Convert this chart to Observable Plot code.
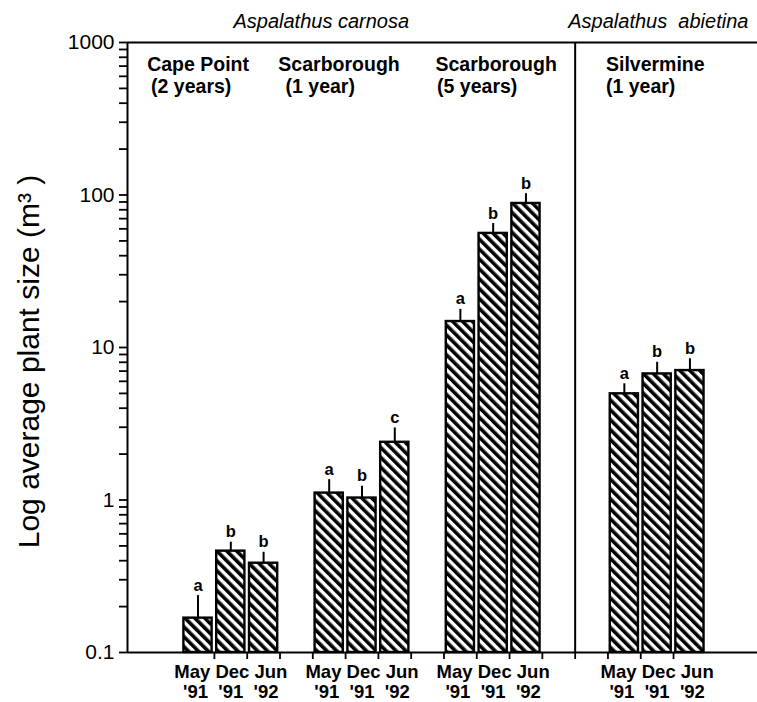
<!DOCTYPE html>
<html>
<head>
<meta charset="utf-8">
<script src="https://cdn.jsdelivr.net/npm/d3@7"></script>
<script src="https://cdn.jsdelivr.net/npm/@observablehq/plot@0.6"></script>
<style>
  body { margin: 0; background: #fff; }
  #chart svg { display: block; }
  #chart svg text { white-space: pre; }
</style>
</head>
<body>
<div id="chart"></div>
<script>
// Sites and survey periods
const sites = ["Cape Point", "Scarborough", "Scarborough", "Silvermine"];
const spans = ["(2 years)", "(1 year)", "(5 years)", "(1 year)"];
const species = ["Aspalathus carnosa", "Aspalathus  abietina"];
const months = ["May", "Dec", "Jun"];
const years = ["'91", "'91", "'92"];

// Average plant size (m³) per site and survey, with upper error limits
const sizes = [
  [0.168, 0.462, 0.385],
  [1.11, 1.03, 2.39],
  [14.8, 56, 88],
  [4.97, 6.71, 7.06]
];
const upper = [
  [0.236, 0.529, 0.454],
  [1.36, 1.23, 2.97],
  [17.8, 65, 102],
  [5.78, 8.0, 8.44]
];
const letters = [
  ["a", "b", "b"],
  ["a", "b", "c"],
  ["a", "b", "b"],
  ["a", "b", "b"]
];
const yTickLabels = [0.1, 1, 10, 100, 1000];

// Layout: bar slots along x (one slot per survey, gaps between sites)
const groupStart = [0, 4, 8, 13];
const divider = 11.5;
const xDomain = [-2.15, 17.06];
const halfBar = 0.43;
const siteDx = [-1.55, -1.55, -0.76, -0.56];
const spanDx = [-1.43, -1.33, -0.71, -0.56];
const speciesX = [1.08, 11.29];

const bars = sites.flatMap((site, g) =>
  months.map((m, i) => ({
    g, i,
    pos: groupStart[g] + i,
    size: sizes[g][i],
    upper: upper[g][i],
    letter: letters[g][i]
  }))
);
const groups = sites.map((site, g) => ({
  g, site, span: spans[g],
  center: groupStart[g] + 1,
  surveys: months.join(" ") + "\n" + years.join("  ")
}));
const speciesRows = species.map((name, k) => ({name, x: speciesX[k]}));

const yTicks = yTickLabels.flatMap(p => p === 1000 ? [p] : d3.range(1, 10).map(k => k * p));

const font = "'Liberation Sans', Arial, Helvetica, sans-serif";

const chart = Plot.plot({
  width: 757,
  height: 702,
  marginLeft: 127,
  marginRight: 0,
  marginTop: 42,
  marginBottom: 50,
  style: {fontFamily: font, fontSize: "21px", color: "#000", background: "#fff"},
  x: {type: "linear", domain: xDomain, axis: null},
  y: {type: "log", domain: [0.1, 1000], axis: null},
  marks: [
    // hatched bars
    Plot.rect(bars, {
      x1: d => d.pos - halfBar,
      x2: d => d.pos + halfBar,
      y1: () => 0.1,
      y2: "size",
      fill: "url(#hatch)",
      stroke: "#000",
      strokeWidth: 2.4
    }),
    // upper error bars
    Plot.ruleX(bars, {x: "pos", y1: "size", y2: "upper", stroke: "#000", strokeWidth: 2}),
    // significance letters
    Plot.text(bars, {
      x: "pos", y: "upper", text: "letter",
      lineAnchor: "bottom", dy: -5,
      fontSize: 16.5, fontWeight: "bold", fill: "#000"
    }),
    // frame lines
    Plot.ruleY([1000], {stroke: "#000", strokeWidth: 2}),
    Plot.ruleY([0.1], {stroke: "#000", strokeWidth: 2}),
    Plot.ruleX([xDomain[0]], {stroke: "#000", strokeWidth: 2}),
    Plot.ruleX([divider], {stroke: "#000", strokeWidth: 2}),
    // log y axis with minor ticks
    Plot.axisY({
      ticks: yTicks,
      tickSize: 8,
      tickPadding: 5,
      strokeWidth: 1.8,
      fontSize: 21,
      tickFormat: d => yTickLabels.includes(d) ? String(d) : "",
      label: null
    }),
    // bottom ticks between slots
    Plot.axisX({
      ticks: d3.range(0.5, 15, 1),
      tickSize: 7,
      strokeWidth: 1.8,
      tickFormat: () => "",
      label: null
    }),
    // survey labels under each site
    Plot.text(groups, {
      x: "center", y: () => 0.1, text: "surveys",
      lineAnchor: "top", dy: 11, lineHeight: 1.1,
      fontSize: 18.5, fontWeight: "bold", fill: "#000"
    }),
    // site labels
    Plot.text(groups, {
      x: d => groupStart[d.g] + siteDx[d.g], y: () => 1000, text: "site",
      textAnchor: "start", lineAnchor: "top", dy: 15,
      fontSize: 19.5, fontWeight: "bold", fill: "#000"
    }),
    Plot.text(groups, {
      x: d => groupStart[d.g] + spanDx[d.g], y: () => 1000, text: "span",
      textAnchor: "start", lineAnchor: "top", dy: 37,
      fontSize: 19.5, fontWeight: "bold", fill: "#000"
    }),
    // species names
    Plot.text(speciesRows, {
      x: "x", y: () => 1000, text: "name",
      textAnchor: "start", lineAnchor: "bottom", dy: -15,
      fontSize: 20, fontStyle: "italic", fill: "#000"
    }),
    // y axis title
    Plot.text(["Log average plant size (m³ )"], {
      frameAnchor: "left", rotate: -90, dx: -89, dy: 14,
      textAnchor: "middle", lineAnchor: "bottom", fontSize: 30, fill: "#000"
    })
  ]
});

chart.insertAdjacentHTML("afterbegin",
  `<defs><pattern id="hatch" width="7" height="7" patternUnits="userSpaceOnUse" patternTransform="rotate(-45)">` +
  `<rect width="7" height="7" fill="#fff"/><rect width="3.6" height="7" fill="#000"/></pattern></defs>`);

document.getElementById("chart").append(chart);
</script>
</body>
</html>
